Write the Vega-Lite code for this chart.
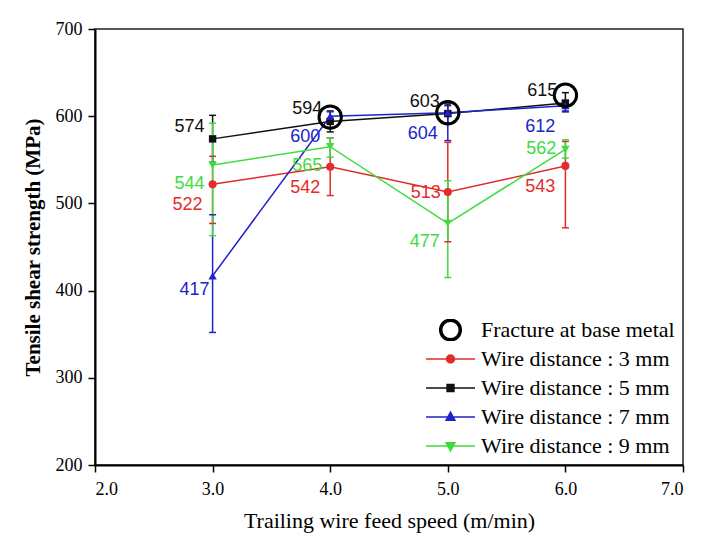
{
  "$schema": "https://vega.github.io/schema/vega-lite/v6.json",
  "width": 588,
  "height": 436,
  "autosize": {"type": "none"},
  "padding": {"left": 95, "top": 29, "right": 34, "bottom": 78},
  "background": "white",
  "config": {
    "view": {"stroke": "#222", "strokeWidth": 1.5},
    "axis": {"grid": false, "domainColor": "#000", "domainWidth": 2, "tickColor": "#000", "tickWidth": 1.5, "tickSize": 7, "labelPadding": 6, "labelFont": "Liberation Serif", "labelFontSize": 18, "labelColor": "#000", "titleFont": "Liberation Serif", "titleColor": "#000"},
    "legend": {"title": null, "orient": "bottom-right", "offset": 8, "padding": 0, "labelFont": "Liberation Serif", "labelFontSize": 22, "labelColor": "#000", "labelOffset": 5, "labelLimit": 400, "rowPadding": 7, "clipHeight": 22, "symbolSize": 2401, "symbolStrokeWidth": 1.5, "symbolOpacity": 1}
  },
  "datasets": {
    "pts": [
      {"series": "Wire distance : 3 mm", "speed": 3, "strength": 522, "lo": 477, "hi": 554},
      {"series": "Wire distance : 3 mm", "speed": 4, "strength": 542, "lo": 509, "hi": 575},
      {"series": "Wire distance : 3 mm", "speed": 5, "strength": 513, "lo": 456, "hi": 570},
      {"series": "Wire distance : 3 mm", "speed": 6, "strength": 543, "lo": 472, "hi": 571},
      {"series": "Wire distance : 5 mm", "speed": 3, "strength": 574, "lo": 547, "hi": 601},
      {"series": "Wire distance : 5 mm", "speed": 4, "strength": 594, "lo": 582, "hi": 606},
      {"series": "Wire distance : 5 mm", "speed": 5, "strength": 603, "lo": 592, "hi": 614},
      {"series": "Wire distance : 5 mm", "speed": 6, "strength": 615, "lo": 605, "hi": 627},
      {"series": "Wire distance : 7 mm", "speed": 3, "strength": 417, "lo": 352, "hi": 487},
      {"series": "Wire distance : 7 mm", "speed": 4, "strength": 600, "lo": 595, "hi": 605},
      {"series": "Wire distance : 7 mm", "speed": 5, "strength": 604, "lo": 572, "hi": 612},
      {"series": "Wire distance : 7 mm", "speed": 6, "strength": 612, "lo": 606, "hi": 618},
      {"series": "Wire distance : 9 mm", "speed": 3, "strength": 544, "lo": 463, "hi": 592},
      {"series": "Wire distance : 9 mm", "speed": 4, "strength": 565, "lo": 553, "hi": 575},
      {"series": "Wire distance : 9 mm", "speed": 5, "strength": 477, "lo": 415, "hi": 526},
      {"series": "Wire distance : 9 mm", "speed": 6, "strength": 562, "lo": 552, "hi": 573}
    ],
    "frac": [
      {"series": "Fracture at base metal", "speed": 4, "strength": 599},
      {"series": "Fracture at base metal", "speed": 5, "strength": 604},
      {"series": "Fracture at base metal", "speed": 6, "strength": 624}
    ]
  },
  "encoding": {
    "x": {"field": "speed", "type": "quantitative", "scale": {"domain": [2, 7]}, "axis": {"values": [2, 3, 4, 5, 6, 7], "format": ".1f", "labelPadding": 8, "titleFontSize": 22, "titleFontWeight": "normal", "titlePadding": 12}, "title": "Trailing wire feed speed (m/min)"},
    "y": {"field": "strength", "type": "quantitative", "scale": {"domain": [200, 700]}, "axis": {"values": [200, 300, 400, 500, 600, 700], "titleFontSize": 21, "titleFontWeight": "bold", "titlePadding": 12}, "title": "Tensile shear strength (MPa)"},
    "color": {"field": "series", "type": "nominal", "scale": {"domain": ["Fracture at base metal", "Wire distance : 3 mm", "Wire distance : 5 mm", "Wire distance : 7 mm", "Wire distance : 9 mm"], "range": ["#000000", "#e32b2b", "#111111", "#2222cc", "#3fdc3f"]}}
  },
  "layer": [
    {"data": {"name": "pts"}, "mark": {"type": "rule", "strokeWidth": 1.5}, "encoding": {"y": {"field": "lo", "type": "quantitative", "title": "Tensile shear strength (MPa)"}, "y2": {"field": "hi"}}},
    {"data": {"name": "pts"}, "mark": {"type": "tick", "orient": "horizontal", "size": 7, "thickness": 1.5, "opacity": 1}, "encoding": {"y": {"field": "lo", "type": "quantitative", "title": "Tensile shear strength (MPa)"}}},
    {"data": {"name": "pts"}, "mark": {"type": "tick", "orient": "horizontal", "size": 7, "thickness": 1.5, "opacity": 1}, "encoding": {"y": {"field": "hi", "type": "quantitative", "title": "Tensile shear strength (MPa)"}}},
    {"data": {"name": "pts"}, "mark": {"type": "line", "strokeWidth": 1.5}, "encoding": {}},
    {"data": {"name": "pts"}, "transform": [{"filter": "datum.series === 'Wire distance : 3 mm'"}], "mark": {"type": "point", "shape": "circle", "filled": true, "opacity": 1, "size": 65}, "encoding": {}},
    {"data": {"name": "pts"}, "transform": [{"filter": "datum.series === 'Wire distance : 5 mm'"}], "mark": {"type": "point", "shape": "square", "filled": true, "opacity": 1, "size": 55}, "encoding": {}},
    {"data": {"name": "pts"}, "transform": [{"filter": "datum.series === 'Wire distance : 7 mm'"}], "mark": {"type": "point", "shape": "triangle-up", "filled": true, "opacity": 1, "size": 70}, "encoding": {}},
    {"data": {"name": "pts"}, "transform": [{"filter": "datum.series === 'Wire distance : 9 mm'"}], "mark": {"type": "point", "shape": "triangle-down", "filled": true, "opacity": 1, "size": 70}, "encoding": {}},
    {"data": {"name": "frac"}, "mark": {"type": "point", "shape": "circle", "filled": false, "opacity": 1, "size": 500, "strokeWidth": 3}, "encoding": {}},
    {"data": {"name": "frac"}, "mark": {"type": "point", "filled": true, "opacity": 0}, "encoding": {
      "shape": {"field": "series", "type": "nominal", "scale": {"domain": ["Fracture at base metal", "Wire distance : 3 mm", "Wire distance : 5 mm", "Wire distance : 7 mm", "Wire distance : 9 mm"], "range": [
        "M0.44,0A0.44,0.44,0,1,1,-0.44,0A0.44,0.44,0,1,1,0.44,0ZM0.36,0A0.36,0.36,0,1,0,-0.36,0A0.36,0.36,0,1,0,0.36,0Z",
        "M-1,0H1M0.163,0A0.163,0.163,0,1,1,-0.163,0A0.163,0.163,0,1,1,0.163,0Z",
        "M-1,0H1M-0.14,-0.14H0.14V0.14H-0.14Z",
        "M-1,0H1M0,-0.2L0.18,0.13H-0.18Z",
        "M-1,0H1M0,0.2L0.18,-0.13H-0.18Z"]},
        "legend": {"symbolOpacity": 1, "clipHeight": 22, "encode": {"symbols": {"update": {"fill": {"scale": "color", "field": "value"}, "stroke": {"scale": "color", "field": "value"}, "opacity": {"value": 1}, "strokeWidth": {"value": 1.5}}}}}}
    }},
    {"mark": {"type": "rule", "strokeDash": [4, 3], "strokeWidth": 1.5, "color": "#000"}, "encoding": {"y": {"datum": 590, "type": "quantitative", "title": "Tensile shear strength (MPa)"}, "x": null, "color": null}},
    {"data": {"name": "pts"}, "transform": [{"filter": "datum.series === 'Wire distance : 5 mm'"}], "mark": {"type": "text", "font": "Liberation Sans", "fontSize": 18, "align": "right", "baseline": "middle", "dx": -8, "dy": -12}, "encoding": {"text": {"field": "strength", "type": "quantitative"}}},
    {"data": {"name": "pts"}, "transform": [{"filter": "datum.series === 'Wire distance : 7 mm' && datum.speed !== 3"}], "mark": {"type": "text", "font": "Liberation Sans", "fontSize": 18, "align": "right", "baseline": "middle", "dx": -10, "dy": 21}, "encoding": {"text": {"field": "strength", "type": "quantitative"}}},
    {"data": {"name": "pts"}, "transform": [{"filter": "datum.series === 'Wire distance : 7 mm' && datum.speed === 3"}], "mark": {"type": "text", "font": "Liberation Sans", "fontSize": 18, "align": "right", "baseline": "middle", "dx": -3, "dy": 14}, "encoding": {"text": {"field": "strength", "type": "quantitative"}}},
    {"data": {"name": "pts"}, "transform": [{"filter": "datum.series === 'Wire distance : 9 mm' && datum.speed !== 6"}], "mark": {"type": "text", "font": "Liberation Sans", "fontSize": 18, "align": "right", "baseline": "middle", "dx": -8, "dy": 19}, "encoding": {"text": {"field": "strength", "type": "quantitative"}}},
    {"data": {"name": "pts"}, "transform": [{"filter": "datum.series === 'Wire distance : 9 mm' && datum.speed === 6"}], "mark": {"type": "text", "font": "Liberation Sans", "fontSize": 18, "align": "right", "baseline": "middle", "dx": -9, "dy": 0}, "encoding": {"text": {"field": "strength", "type": "quantitative"}}},
    {"data": {"name": "pts"}, "transform": [{"filter": "datum.series === 'Wire distance : 3 mm' && datum.speed !== 5"}], "mark": {"type": "text", "font": "Liberation Sans", "fontSize": 18, "align": "right", "baseline": "middle", "dx": -10, "dy": 21}, "encoding": {"text": {"field": "strength", "type": "quantitative"}}},
    {"data": {"name": "pts"}, "transform": [{"filter": "datum.series === 'Wire distance : 3 mm' && datum.speed === 5"}], "mark": {"type": "text", "font": "Liberation Sans", "fontSize": 18, "align": "right", "baseline": "middle", "dx": -7, "dy": 1}, "encoding": {"text": {"field": "strength", "type": "quantitative"}}}
  ]
}
